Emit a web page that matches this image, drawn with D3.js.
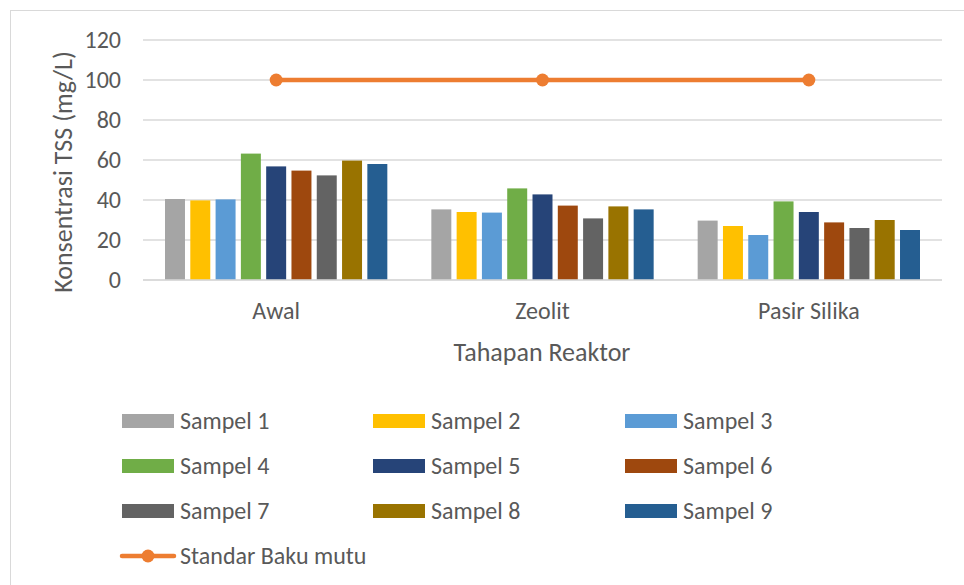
<!DOCTYPE html>
<html>
<head>
<meta charset="utf-8">
<script src="https://cdn.jsdelivr.net/npm/d3@7"></script>
<style>
  body { margin: 0; background: #fff; }
  svg { display: block; font-family: Calibri, Carlito, "Open Sans", sans-serif; }
</style>
</head>
<body>
<svg id="chart" width="964" height="585"></svg>
<script>
// data
var categories = ["Awal", "Zeolit", "Pasir Silika"];
var samples = ["Sampel 1", "Sampel 2", "Sampel 3", "Sampel 4", "Sampel 5", "Sampel 6", "Sampel 7", "Sampel 8", "Sampel 9"];
var awalValues = [40.5, 39.8, 40.3, 63.2, 56.8, 54.7, 52.3, 59.7, 58];
var zeolitValues = [35.3, 34, 33.7, 45.8, 42.8, 37.2, 30.8, 36.8, 35.3];
var pasirValues = [29.7, 27, 22.5, 39.3, 34, 28.8, 26, 30, 25];
var bakuMutu = [100, 100, 100];
var yTicks = [0, 20, 40, 60, 80, 100, 120];

var colors = ["#A5A5A5", "#FFC000", "#5B9BD5", "#70AD47", "#264478", "#9E480E", "#636363", "#997300", "#255E91"];
var lineColor = "#ED7D31";
var textColor = "#595959";

var seriesByCat = [awalValues, zeolitValues, pasirValues];

var svg = d3.select("#chart");

// chart frame
svg.append("rect")
    .attr("x", 10.5).attr("y", 10.5)
    .attr("width", 970).attr("height", 600)
    .attr("fill", "none").attr("stroke", "#D9D9D9").attr("stroke-width", 1);

var x0 = d3.scaleBand().domain(categories).range([143, 942]).padding(0);
var x1 = d3.scaleBand().domain(samples).range([0, x0.bandwidth()])
    .paddingInner(0.21).paddingOuter(0.87);
var y = d3.scaleLinear().domain([0, 120]).range([280, 40]);

// gridlines
svg.append("g").selectAll("line")
    .data(yTicks)
    .enter().append("line")
    .attr("x1", 143).attr("x2", 942)
    .attr("y1", function (d) { return y(d); })
    .attr("y2", function (d) { return y(d); })
    .attr("stroke", "#D9D9D9").attr("stroke-width", 1.3);

// y tick labels
svg.append("g").selectAll("text")
    .data(yTicks)
    .enter().append("text")
    .attr("x", 121)
    .attr("y", function (d) { return y(d); })
    .attr("dy", "0.35em")
    .attr("text-anchor", "end")
    .attr("font-size", 24)
    .attr("fill", textColor)
    .text(function (d) { return d; });

// bars
var groups = svg.append("g").selectAll("g")
    .data(categories)
    .enter().append("g")
    .attr("transform", function (d) { return "translate(" + x0(d) + ",0)"; });

groups.selectAll("rect")
    .data(function (d, i) {
        return seriesByCat[i].map(function (v, j) { return {s: samples[j], v: v, c: colors[j]}; });
    })
    .enter().append("rect")
    .attr("x", function (d) { return x1(d.s); })
    .attr("y", function (d) { return y(d.v); })
    .attr("width", x1.bandwidth())
    .attr("height", function (d) { return y(0) - y(d.v); })
    .attr("fill", function (d) { return d.c; });

// baseline on top
svg.append("line")
    .attr("x1", 143).attr("x2", 942)
    .attr("y1", y(0)).attr("y2", y(0))
    .attr("stroke", "#D9D9D9").attr("stroke-width", 1.3);

// standard line
var cx = function (d, i) { return x0(categories[i]) + x0.bandwidth() / 2; };
svg.append("path")
    .datum(bakuMutu)
    .attr("fill", "none")
    .attr("stroke", lineColor)
    .attr("stroke-width", 4.5)
    .attr("stroke-linecap", "round")
    .attr("d", d3.line().x(cx).y(function (d) { return y(d); }));

svg.append("g").selectAll("circle")
    .data(bakuMutu)
    .enter().append("circle")
    .attr("cx", cx)
    .attr("cy", function (d) { return y(d); })
    .attr("r", 6.5)
    .attr("fill", lineColor);

// x labels
svg.append("g").selectAll("text")
    .data(categories)
    .enter().append("text")
    .attr("x", function (d) { return x0(d) + x0.bandwidth() / 2; })
    .attr("y", 311)
    .attr("dy", "0.35em")
    .attr("text-anchor", "middle")
    .attr("font-size", 24)
    .attr("fill", textColor)
    .text(function (d) { return d; });

// axis titles
svg.append("text")
    .attr("x", 542).attr("y", 352)
    .attr("dy", "0.35em")
    .attr("text-anchor", "middle")
    .attr("font-size", 26)
    .attr("fill", textColor)
    .text("Tahapan Reaktor");

svg.append("text")
    .attr("transform", "translate(72,172) rotate(-90)")
    .attr("text-anchor", "middle")
    .attr("font-size", 26)
    .attr("fill", textColor)
    .text("Konsentrasi TSS (mg/L)");

// legend
var legend = svg.append("g");
var colX = [122, 373, 625];
var rowY = [421, 466, 511];
samples.forEach(function (s, i) {
    var lx = colX[i % 3], ly = rowY[Math.floor(i / 3)];
    legend.append("rect")
        .attr("x", lx).attr("y", ly - 7)
        .attr("width", 52).attr("height", 14)
        .attr("fill", colors[i]);
    legend.append("text")
        .attr("x", lx + 58).attr("y", ly)
        .attr("dy", "0.35em")
        .attr("font-size", 24)
        .attr("fill", textColor)
        .text(s);
});
legend.append("line")
    .attr("x1", 122).attr("x2", 174)
    .attr("y1", 556).attr("y2", 556)
    .attr("stroke", lineColor).attr("stroke-width", 4.5)
    .attr("stroke-linecap", "round");
legend.append("circle")
    .attr("cx", 148).attr("cy", 556).attr("r", 6.5)
    .attr("fill", lineColor);
legend.append("text")
    .attr("x", 180).attr("y", 556)
    .attr("dy", "0.35em")
    .attr("font-size", 24)
    .attr("fill", textColor)
    .text("Standar Baku mutu");
</script>
</body>
</html>
